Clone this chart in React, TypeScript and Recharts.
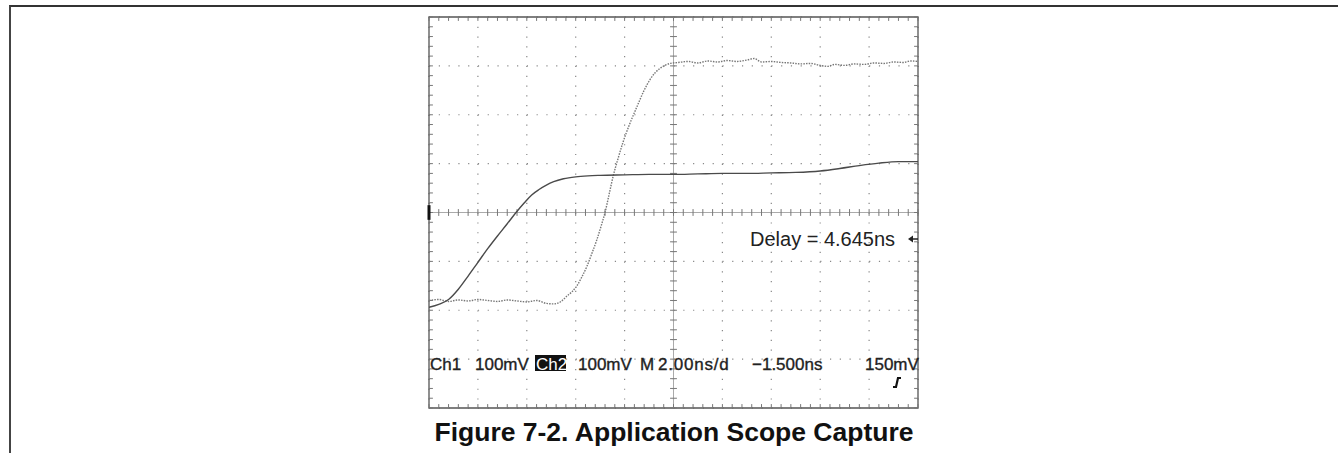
import { LineChart, Line, XAxis, YAxis, CartesianGrid, ReferenceLine, ReferenceArea } from "recharts";

// time in ns (2 ns/div, 10 div), level in divisions (8 div, centre = 0)
const ch1Time = [0, 0.4, 0.8, 1.2, 1.6, 2.0, 2.4, 2.8, 3.2, 3.56, 3.9, 4.2, 4.5, 4.8, 5.1, 5.5, 6.0, 6.5, 7.0, 8.0, 9.0, 10.0, 11.0, 12.0, 13.0, 14.0, 15.0, 16.0, 16.8, 17.6, 18.4, 19.2, 20.0];
const ch1Level = [-1.94, -1.88, -1.78, -1.57, -1.3, -1.02, -0.74, -0.48, -0.23, 0.0, 0.2, 0.36, 0.47, 0.56, 0.63, 0.69, 0.73, 0.75, 0.76, 0.77, 0.78, 0.78, 0.79, 0.8, 0.8, 0.81, 0.82, 0.85, 0.9, 0.96, 1.01, 1.04, 1.04];

const ch2Time = [0, 0.4, 0.8, 1.2, 1.6, 2.0, 2.4, 2.8, 3.2, 3.6, 4.0, 4.4, 4.8, 5.1, 5.4, 5.64, 5.85, 6.05, 6.25, 6.46, 6.66, 6.87, 7.05, 7.2, 7.37, 7.53, 7.73, 7.93, 8.2, 8.51, 8.78, 9.04, 9.25, 9.45, 9.65, 9.86, 10.2, 10.6, 11.0, 11.4, 11.8, 12.2, 12.6, 13.0, 13.3, 13.6, 14.0, 14.4, 14.8, 15.2, 15.6, 16.0, 16.3, 16.6, 17.0, 17.4, 17.8, 18.2, 18.6, 19.0, 19.4, 19.7, 20.0];
const ch2Level = [-1.8, -1.78, -1.82, -1.79, -1.81, -1.78, -1.8, -1.82, -1.79, -1.81, -1.83, -1.8, -1.86, -1.87, -1.82, -1.71, -1.62, -1.5, -1.32, -1.1, -0.84, -0.55, -0.26, 0.0, 0.38, 0.74, 1.1, 1.43, 1.8, 2.17, 2.48, 2.72, 2.86, 2.95, 3.01, 3.05, 3.07, 3.09, 3.06, 3.1, 3.08, 3.11, 3.09, 3.12, 3.15, 3.08, 3.09, 3.07, 3.06, 3.04, 3.05, 3.01, 2.99, 3.03, 3.01, 3.04, 3.03, 3.06, 3.05, 3.08, 3.07, 3.1, 3.09];

const majorX = [0, 2, 4, 6, 8, 10, 12, 14, 16, 18, 20];
const majorY = [-4, -3, -2, -1, 0, 1, 2, 3, 4];

const ch1Data = ch1Time.map((t, i) => ({ t, v: ch1Level[i] }));
const ch2Data = ch2Time.map((t, i) => ({ t, v: ch2Level[i] }));

const minorX: number[] = [];
for (let i = 0; i <= 50; i++) minorX.push(+(i * 0.4).toFixed(2));
const minorY: number[] = [];
for (let i = 0; i <= 40; i++) minorY.push(+(-4 + i * 0.2).toFixed(2));

const tickStroke = "#777";
const scopeFont = "'Liberation Sans', Arial, sans-serif";

function Txt({ x, y, size, children, style }: any) {
  return (
    <div style={{ position: "absolute", left: x, top: y, fontSize: size, fontFamily: scopeFont, color: "#222", whiteSpace: "pre", lineHeight: 1, ...style }}>
      {children}
    </div>
  );
}

const status = { WebkitTextStroke: "0.35px #222" };

export default function App() {
  return (
    <div style={{ position: "absolute", left: 0, top: 0, width: 1338, height: 453, background: "#fff", overflow: "hidden" }}>
      {/* page frame */}
      <div style={{ position: "absolute", left: 9, top: 5, width: 1329, height: 448, borderTop: "2px solid #333", borderLeft: "2px solid #444" }} />

      <div style={{ position: "absolute", left: 419, top: 7 }}>
        <LineChart width={509} height={411} margin={{ top: 10, right: 10, bottom: 10, left: 10 }}>
          <XAxis type="number" dataKey="t" domain={[0, 20]} ticks={majorX} hide allowDataOverflow />
          <YAxis type="number" domain={[-4, 4]} ticks={majorY} hide allowDataOverflow />
          <CartesianGrid stroke="#888" strokeWidth={1.2} strokeDasharray="1.2 8.58" />
          <ReferenceLine y={0} stroke="#aaa" />
          <ReferenceLine x={10} stroke="#aaa" />
          {minorX.map((t) => (
            <ReferenceLine key={"cx" + t} segment={[{ x: t, y: -0.07 }, { x: t, y: 0.07 }]} stroke={tickStroke} />
          ))}
          {minorY.map((v) => (
            <ReferenceLine key={"cy" + v} segment={[{ x: 9.86, y: v }, { x: 10.14, y: v }]} stroke={tickStroke} />
          ))}
          {minorX.map((t) => (
            <ReferenceLine key={"tx" + t} segment={[{ x: t, y: 4 }, { x: t, y: 3.92 }]} stroke={tickStroke} />
          ))}
          {minorX.map((t) => (
            <ReferenceLine key={"bx" + t} segment={[{ x: t, y: -4 }, { x: t, y: -3.92 }]} stroke={tickStroke} />
          ))}
          {minorY.map((v) => (
            <ReferenceLine key={"ly" + v} segment={[{ x: 0, y: v }, { x: 0.16, y: v }]} stroke={tickStroke} />
          ))}
          {minorY.map((v) => (
            <ReferenceLine key={"ry" + v} segment={[{ x: 20, y: v }, { x: 19.84, y: v }]} stroke={tickStroke} />
          ))}
          <ReferenceArea x1={0} x2={20} y1={-4} y2={4} fill="none" stroke="#555" strokeWidth={1.3} />
          <ReferenceLine segment={[{ x: 0, y: -0.15 }, { x: 0, y: 0.15 }]} stroke="#111" strokeWidth={3} />
          <Line data={ch2Data} dataKey="v" type="monotone" dot={false} stroke="#777" strokeWidth={1.4} strokeDasharray="1.5 1.2" isAnimationActive={false} />
          <Line data={ch1Data} dataKey="v" type="monotone" dot={false} stroke="#4a4a4a" strokeWidth={1.4} isAnimationActive={false} />
        </LineChart>
      </div>

      <Txt x={750} y={229} size={20}>Delay = 4.645ns</Txt>
      <svg style={{ position: "absolute", left: 906, top: 233 }} width={14} height={12}>
        <path d="M2 6 L7 2.5 L7 9.5 Z" fill="#222" />
        <path d="M6 6 L12 6" stroke="#222" strokeWidth={1.5} />
      </svg>

      <Txt x={430} y={356} size={17} style={status}>Ch1</Txt>
      <Txt x={475} y={356} size={17} style={status}>100mV</Txt>
      <div style={{ position: "absolute", left: 535, top: 355, width: 31, height: 16, background: "#111" }} />
      <Txt x={536} y={356} size={17} style={{ color: "#fff" }}>Ch2</Txt>
      <Txt x={578} y={356} size={17} style={status}>100mV</Txt>
      <Txt x={640} y={356} size={17} style={status}>M</Txt>
      <Txt x={658} y={356} size={17} style={{ ...status, letterSpacing: 0.8 }}>2.00ns/d</Txt>
      <Txt x={752} y={356} size={17} style={status}>−1.500ns</Txt>
      <Txt x={865} y={356} size={17} style={status}>150mV</Txt>
      <svg style={{ position: "absolute", left: 890, top: 375 }} width={14} height={15}>
        <path d="M3 12 L6 12 L8 3 L11 3" fill="none" stroke="#111" strokeWidth={2.2} />
      </svg>

      <div style={{ position: "absolute", left: 0, width: 1338, top: 419, textAlign: "center", paddingLeft: 10, boxSizing: "border-box", fontFamily: "'Liberation Sans', Arial, sans-serif", fontWeight: 700, fontSize: 26.5, lineHeight: 1, color: "#111" }}>
        Figure 7-2. Application Scope Capture
      </div>
    </div>
  );
}
